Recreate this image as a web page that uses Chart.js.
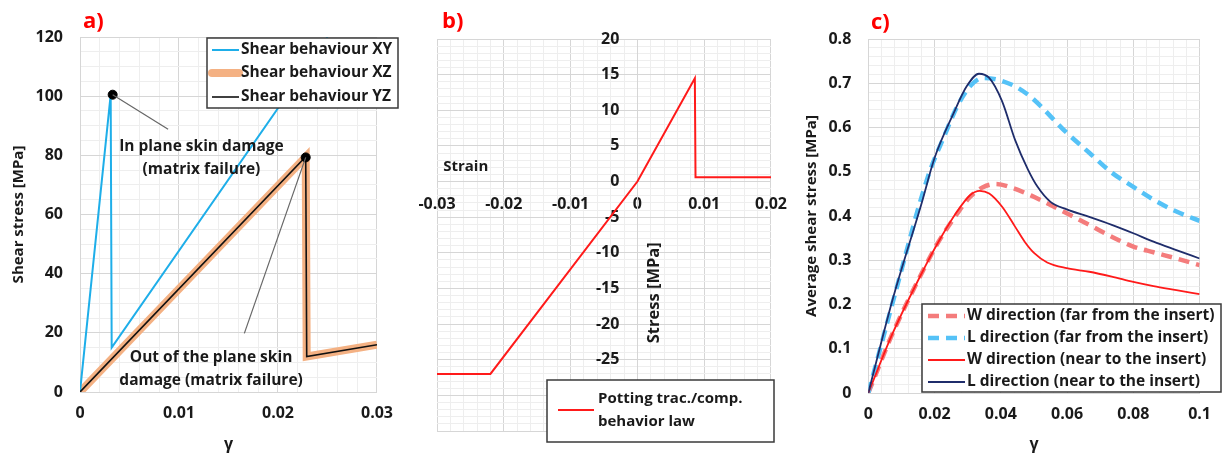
<!DOCTYPE html>
<html>
<head>
<meta charset="utf-8">
<script src="https://cdn.jsdelivr.net/npm/chart.js@4.4.0/dist/chart.umd.min.js"></script>
<style>
  body { margin: 0; background: #fff; width: 1223px; height: 454px; overflow: hidden; position: relative; }
  canvas { position: absolute; top: 0; }
  #chartA { left: 0; }
  #chartB { left: 405px; }
  #chartC { left: 800px; }
</style>
</head>
<body>
<canvas id="chartA" width="405" height="454"></canvas>
<canvas id="chartB" width="395" height="454"></canvas>
<canvas id="chartC" width="423" height="454"></canvas>
<script>
// ---- a) skin shear behaviour ----
const gammaXY = [0, 0.0031, 0.0032, 0.025];
const stressXY = [0, 100.5, 15, 120];
const gammaXZ = [0, 0.0228, 0.0229, 0.03];
const stressXZ = [0, 79.5, 12, 16];
const gammaYZ = [0, 0.0228, 0.0229, 0.03];
const stressYZ = [0, 79.5, 12, 16];
const damageGamma = [0.0033, 0.0228];
const damageStress = [100.5, 79.3];
const leaderInGamma = [0.0033, 0.0089];
const leaderInStress = [100.5, 88.8];
const leaderOutGamma = [0.0228, 0.0166];
const leaderOutStress = [79.3, 19.8];

// ---- b) potting traction / compression law ----
const pottingStrain = [-0.03, -0.022, 0, 0.0086, 0.0087, 0.02];
const pottingStress = [-27, -27, 0, 14.5, 0.6, 0.6];

// ---- c) average shear stress ----
const wFarGamma = [0, 0.0073, 0.0171, 0.0209, 0.0268, 0.0307, 0.0346, 0.0385, 0.0433, 0.0492, 0.0531, 0.0599, 0.0667, 0.0735, 0.08, 0.0861, 0.093, 0.1];
const wFarStress = [0, 0.134, 0.285, 0.338, 0.405, 0.443, 0.465, 0.4725, 0.464, 0.446, 0.432, 0.406, 0.38, 0.353, 0.331, 0.318, 0.304, 0.289];
const lFarGamma = [0, 0.008, 0.018, 0.0229, 0.0268, 0.0307, 0.0346, 0.0385, 0.0443, 0.0492, 0.0599, 0.0667, 0.0735, 0.08, 0.0861, 0.093, 0.1];
const lFarStress = [0, 0.222, 0.489, 0.58, 0.647, 0.693, 0.712, 0.709, 0.693, 0.668, 0.588, 0.543, 0.498, 0.466, 0.437, 0.41, 0.389];
const wNearGamma = [0, 0.0073, 0.0171, 0.0209, 0.0268, 0.0307, 0.0336, 0.0365, 0.0404, 0.0443, 0.0472, 0.0501, 0.054, 0.0599, 0.0667, 0.0735, 0.08, 0.0861, 0.093, 0.1];
const wNearStress = [0, 0.134, 0.285, 0.338, 0.41, 0.447, 0.457, 0.451, 0.421, 0.376, 0.342, 0.316, 0.295, 0.282, 0.274, 0.263, 0.251, 0.2415, 0.2325, 0.2234];
const lNearGamma = [0, 0.0073, 0.0161, 0.02, 0.0258, 0.0297, 0.0334, 0.0365, 0.0404, 0.0443, 0.0482, 0.0511, 0.055, 0.0599, 0.0667, 0.0735, 0.08, 0.0861, 0.093, 0.1];
const lNearStress = [0, 0.21, 0.429, 0.531, 0.633, 0.693, 0.7215, 0.712, 0.659, 0.572, 0.505, 0.466, 0.432, 0.415, 0.398, 0.38, 0.361, 0.342, 0.323, 0.304];

const TEXT = '#1a1a1a';
const MAJOR_GRID = '#d6d6d6';
const MINOR_GRID = '#eeeeee';
const FONT = '"Open Sans"';

Chart.defaults.font.family = FONT;
Chart.defaults.font.size = 16;
Chart.defaults.font.weight = 'bold';
Chart.defaults.color = TEXT;

const pts = (xs, ys) => xs.map((x, i) => ({ x, y: ys[i] }));
const isMajor = (v, major) => Math.abs(v / major - Math.round(v / major)) < 1e-6;
const fmt = v => String(Math.round(v * 1000) / 1000);
const bold = size => `bold ${size}px ${FONT}`;

/**
 * Linear scale with Excel-like major/minor grid
 */
function gridScale(min, max, step, major, pad, extra) {
    return Object.assign({
        type: 'linear',
        min, max,
        grid: {
            drawTicks: false,
            lineWidth: 1,
            color: c => isMajor(c.tick.value, major) ? MAJOR_GRID : MINOR_GRID
        },
        border: { color: MAJOR_GRID },
        ticks: {
            stepSize: step,
            autoSkip: false,
            maxRotation: 0,
            padding: pad,
            callback: v => isMajor(v, major) ? fmt(v) : ''
        }
    }, extra);
}

function line(data, color, width, extra) {
    return Object.assign({
        data,
        borderColor: color,
        backgroundColor: color,
        borderWidth: width,
        showLine: true,
        pointRadius: 0,
        fill: false
    }, extra);
}

// Draws y labels beside a crossing axis, notes, panel tag and the boxed legend
const decor = {
    id: 'decor',
    beforeDatasetsDraw(chart, args, o) {
        if (!o.crossLabels) return;
        const ctx = chart.ctx;
        const sx = chart.scales.x, sy = chart.scales.y;
        const x0 = sx.getPixelForValue(0) - o.crossLabels.pad;
        ctx.save();
        ctx.fillStyle = TEXT;
        ctx.font = bold(16);
        ctx.textAlign = 'right';
        ctx.textBaseline = 'middle';
        sy.ticks.forEach(t => {
            if (isMajor(t.value, o.crossLabels.major)) {
                ctx.fillText(fmt(t.value), x0, sy.getPixelForValue(t.value));
            }
        });
        ctx.restore();
    },
    afterDatasetsDraw(chart, args, o) {
        const ctx = chart.ctx;
        const sx = chart.scales.x, sy = chart.scales.y;
        ctx.save();
        ctx.fillStyle = TEXT;
        ctx.textAlign = 'center';
        ctx.textBaseline = 'middle';
        (o.notes || []).forEach(n => {
            ctx.save();
            ctx.translate(sx.getPixelForValue(n.x), sy.getPixelForValue(n.y));
            if (n.rotate) ctx.rotate(n.rotate);
            ctx.font = n.font || bold(15.5);
            ctx.fillText(n.text, 0, 0);
            ctx.restore();
        });

        const L = o.legend;
        if (L) {
            const [l, t, r, b] = L.box;
            ctx.fillStyle = '#fff';
            ctx.fillRect(l, t, r - l, b - t);
            ctx.strokeStyle = '#3a3a3a';
            ctx.lineWidth = 1.5;
            ctx.strokeRect(l, t, r - l, b - t);
            L.rows.forEach(row => {
                const ds = chart.data.datasets[row.dataset];
                ctx.beginPath();
                ctx.strokeStyle = ds.borderColor;
                ctx.lineWidth = ds.borderWidth;
                ctx.setLineDash(ds.borderDash || []);
                ctx.lineCap = row.cap || 'butt';
                ctx.moveTo(L.line[0], row.y);
                ctx.lineTo(L.line[1], row.y);
                ctx.stroke();
                ctx.setLineDash([]);
                ctx.fillStyle = TEXT;
                ctx.textAlign = 'left';
                ctx.font = L.font;
                row.text.forEach((txt, i) => {
                    ctx.fillText(txt, L.textX, row.y + (i - (row.text.length - 1) / 2) * (L.gap || 0));
                });
            });
        }

        if (o.tag) {
            ctx.fillStyle = '#ff0000';
            ctx.font = bold(22);
            ctx.textAlign = 'left';
            ctx.fillText(o.tag.text, o.tag.x, o.tag.y);
        }
        ctx.restore();
    }
};

const base = {
    responsive: false,
    animation: false,
    devicePixelRatio: 1,
    plugins: { legend: { display: false }, tooltip: { enabled: false } }
};

// ---- chart a ----
new Chart(document.getElementById('chartA'), {
    type: 'scatter',
    data: {
        datasets: [
            line(pts(gammaXY, stressXY), '#1eaee9', 2, { order: 2 }),
            line(pts(gammaXZ, stressXZ), '#f4b183', 8, { order: 3 }),
            line(pts(gammaYZ, stressYZ), '#111111', 1.6, { order: 1 }),
            line(pts(leaderInGamma, leaderInStress), '#666666', 1.2, { order: 0 }),
            line(pts(leaderOutGamma, leaderOutStress), '#666666', 1.2, { order: 0 }),
            { data: pts(damageGamma, damageStress), pointRadius: 4.5, backgroundColor: '#000', borderColor: '#000', order: 0 }
        ]
    },
    options: Object.assign({}, base, {
        layout: { padding: { left: 0, right: 16, top: 37, bottom: 0 } },
        scales: {
            x: gridScale(0, 0.03, 0.002, 0.01, 12, {
                title: { display: true, text: 'γ', padding: 0 },
                afterFit: s => { s.height = 62; }
            }),
            y: gridScale(0, 120, 5, 20, 17, {
                title: { display: true, text: 'Shear stress [MPa]', font: { size: 15 }, padding: { top: 10, bottom: 0 } },
                afterFit: s => { s.width = 80; }
            })
        },
        plugins: Object.assign({}, base.plugins, {
            decor: {
                tag: { text: 'a)', x: 83, y: 22 },
                notes: [
                    { text: 'In plane skin damage', x: 0.01227, y: 83.0 },
                    { text: '(matrix failure)', x: 0.01227, y: 75.1 },
                    { text: 'Out of the plane skin', x: 0.01324, y: 11.6 },
                    { text: 'damage (matrix failure)', x: 0.01324, y: 3.9 }
                ],
                legend: {
                    box: [207, 38, 398, 108],
                    line: [212, 239],
                    textX: 241,
                    font: bold(15.5),
                    rows: [
                        { dataset: 0, y: 50, text: ['Shear behaviour XY'] },
                        { dataset: 1, y: 73, text: ['Shear behaviour XZ'], cap: 'round' },
                        { dataset: 2, y: 97, text: ['Shear behaviour YZ'] }
                    ]
                }
            }
        })
    }),
    plugins: [decor]
});

// ---- chart b ----
new Chart(document.getElementById('chartB'), {
    type: 'scatter',
    data: {
        datasets: [
            line(pts(pottingStrain, pottingStress), '#ff1a1a', 2)
        ]
    },
    options: Object.assign({}, base, {
        layout: { padding: { left: 32, right: 27, top: 39, bottom: 23 } },
        scales: {
            x: gridScale(-0.03, 0.02, 0.002, 0.01, 13, {
                position: { y: 0 },
                afterFit: s => { s.height = 0; }
            }),
            y: gridScale(-35, 20, 1, 5, 18, {
                position: { x: 0 },
                ticks: { stepSize: 1, autoSkip: false, display: false },
                afterFit: s => { s.width = 0; }
            })
        },
        plugins: Object.assign({}, base.plugins, {
            decor: {
                crossLabels: { pad: 18, major: 5 },
                tag: { text: 'b)', x: 37, y: 22 },
                notes: [
                    { text: 'Strain', x: -0.0257, y: 2.1, font: bold(15) },
                    { text: 'Stress [MPa]', x: 0.0025, y: -15.6, rotate: -Math.PI / 2, font: bold(16.5) }
                ],
                legend: {
                    box: [142, 380, 369, 442],
                    line: [153, 189],
                    textX: 193,
                    gap: 23,
                    font: bold(15),
                    rows: [
                        { dataset: 0, y: 410, text: ['Potting trac./comp.', 'behavior law'] }
                    ]
                }
            }
        })
    }),
    plugins: [decor]
});

// ---- chart c ----
const smooth = { cubicInterpolationMode: 'monotone' };
new Chart(document.getElementById('chartC'), {
    type: 'scatter',
    data: {
        datasets: [
            line(pts(wFarGamma, wFarStress), '#f47c7c', 4.5, Object.assign({ borderDash: [11, 7], order: 3 }, smooth)),
            line(pts(lFarGamma, lFarStress), '#55c2f7', 4.5, Object.assign({ borderDash: [11, 7], order: 2 }, smooth)),
            line(pts(wNearGamma, wNearStress), '#ff1a1a', 1.8, Object.assign({ order: 1 }, smooth)),
            line(pts(lNearGamma, lNearStress), '#1f2d6b', 1.8, Object.assign({ order: 0 }, smooth))
        ]
    },
    options: Object.assign({}, base, {
        layout: { padding: { left: 0, right: 12, top: 39, bottom: 0 } },
        scales: {
            x: gridScale(0, 0.1, 0.004, 0.02, 12, {
                title: { display: true, text: 'γ', padding: 0 },
                afterFit: s => { s.height = 61; }
            }),
            y: gridScale(0, 0.8, 0.02, 0.1, 17, {
                title: { display: true, text: 'Average shear stress [MPa]', font: { size: 15 }, padding: { top: 3, bottom: 0 } },
                afterFit: s => { s.width = 68.3; }
            })
        },
        plugins: Object.assign({}, base.plugins, {
            decor: {
                tag: { text: 'c)', x: 71, y: 23 },
                legend: {
                    box: [122, 304, 421, 392],
                    line: [128, 165],
                    textX: 167,
                    font: bold(15.5),
                    rows: [
                        { dataset: 0, y: 316, text: ['W direction (far from the insert)'] },
                        { dataset: 1, y: 338, text: ['L direction (far from the insert)'] },
                        { dataset: 2, y: 360, text: ['W direction (near to the insert)'] },
                        { dataset: 3, y: 382, text: ['L direction (near to the insert)'] }
                    ]
                }
            }
        })
    }),
    plugins: [decor]
});
</script>
</body>
</html>
